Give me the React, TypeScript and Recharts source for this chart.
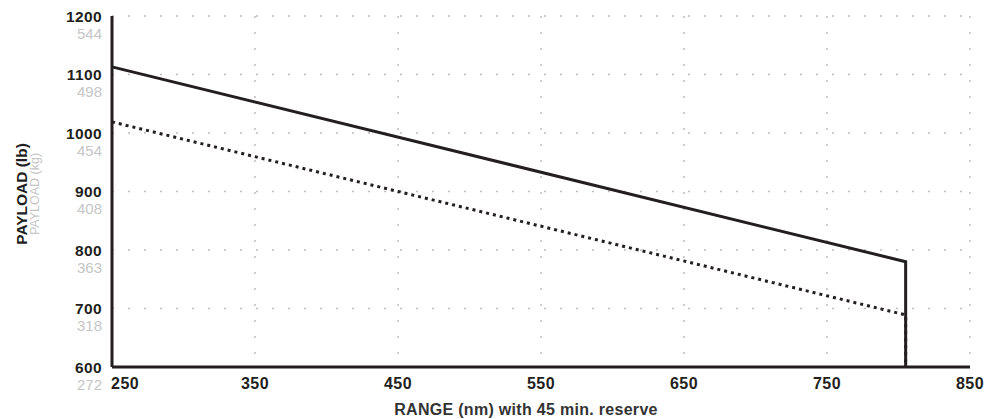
import { CartesianGrid, Label, Line, LineChart, XAxis, YAxis } from 'recharts'

// range in nautical miles, payload in pounds
const rangeNm = [250, 805, 805]
const fullLb = [1113, 780, 600]
const reducedLb = [1019, 689, 600]

const rangeTicks = [250, 350, 450, 550, 650, 750, 850]
const payloadTicks = [600, 700, 800, 900, 1000, 1100, 1200]
const payloadKg = [272, 318, 363, 408, 454, 498, 544]

const ink = '#231f20'
const faint = '#c6c6c6'
const font = '"Liberation Sans", Arial, sans-serif'

const fullData = rangeNm.map((range, i) => ({ range, payload: fullLb[i] }))
const reducedData = rangeNm.map((range, i) => ({ range, payload: reducedLb[i] }))

function PayloadTick({ x, y, payload, index }: any) {
  return (
    <g>
      <text
        x={x}
        y={y}
        textAnchor="end"
        dominantBaseline="central"
        fontFamily={font}
        fontSize={15.5}
        fontWeight={700}
        letterSpacing={0.4}
        fill={ink}
      >
        {payload.value}
      </text>
      <text
        x={x}
        y={y + 17}
        textAnchor="end"
        dominantBaseline="central"
        fontFamily={font}
        fontSize={15}
        fontWeight={300}
        fill={faint}
      >
        {payloadKg[index]}
      </text>
    </g>
  )
}

function RangeTick({ x, y, payload, index }: any) {
  return (
    <text
      x={index === 0 ? x - 1 : x}
      y={y}
      textAnchor={index === 0 ? 'start' : 'middle'}
      dominantBaseline="central"
      fontFamily={font}
      fontSize={16}
      fontWeight={700}
      letterSpacing={0.5}
      fill={ink}
    >
      {payload.value}
    </text>
  )
}

export default function App() {
  return (
    <div style={{ position: 'absolute', left: 0, top: 0, background: '#fff' }}>
      <LineChart width={989} height={419} margin={{ top: 16, right: 19, bottom: 0, left: 0 }}>
        <CartesianGrid
          stroke="#bdbdbd"
          strokeWidth={1.5}
          strokeDasharray="2 14"
          horizontalValues={payloadTicks}
          verticalValues={rangeTicks}
        />
        <XAxis
          dataKey="range"
          type="number"
          domain={[250, 850]}
          ticks={rangeTicks}
          allowDuplicatedCategory={false}
          height={52}
          axisLine={{ stroke: ink, strokeWidth: 3 }}
          tickLine={false}
          tickMargin={0}
          tick={(props: any) => <RangeTick {...props} y={383.5} />}
        >
          <Label
            content={() => (
              <text
                x={526}
                y={409}
                textAnchor="middle"
                dominantBaseline="central"
                fontFamily={font}
                fontSize={16}
                fontWeight={700}
                letterSpacing={0.3}
                fill="#333"
              >
                RANGE (nm) with 45 min. reserve
              </text>
            )}
          />
        </XAxis>
        <YAxis
          dataKey="payload"
          type="number"
          domain={[600, 1200]}
          ticks={payloadTicks}
          width={112}
          axisLine={{ stroke: ink, strokeWidth: 3 }}
          tickLine={false}
          tick={(props: any) => <PayloadTick {...props} x={102} />}
        >
          <Label
            content={() => (
              <g>
                <text
                  x={21}
                  y={194}
                  transform="rotate(-90 21 194)"
                  textAnchor="middle"
                  dominantBaseline="central"
                  fontFamily={font}
                  fontSize={15.5}
                  fontWeight={700}
                  fill={ink}
                >
                  PAYLOAD (lb)
                </text>
                <text
                  x={35}
                  y={194}
                  transform="rotate(-90 35 194)"
                  textAnchor="middle"
                  dominantBaseline="central"
                  fontFamily={font}
                  fontSize={12.5}
                  fontWeight={300}
                  fill={faint}
                >
                  PAYLOAD (kg)
                </text>
              </g>
            )}
          />
        </YAxis>
        <Line
          data={reducedData}
          dataKey="payload"
          stroke={ink}
          strokeWidth={3}
          strokeDasharray="3 4"
          dot={false}
          activeDot={false}
          isAnimationActive={false}
        />
        <Line
          data={fullData}
          dataKey="payload"
          stroke={ink}
          strokeWidth={3}
          dot={false}
          activeDot={false}
          isAnimationActive={false}
        />
      </LineChart>
    </div>
  )
}
